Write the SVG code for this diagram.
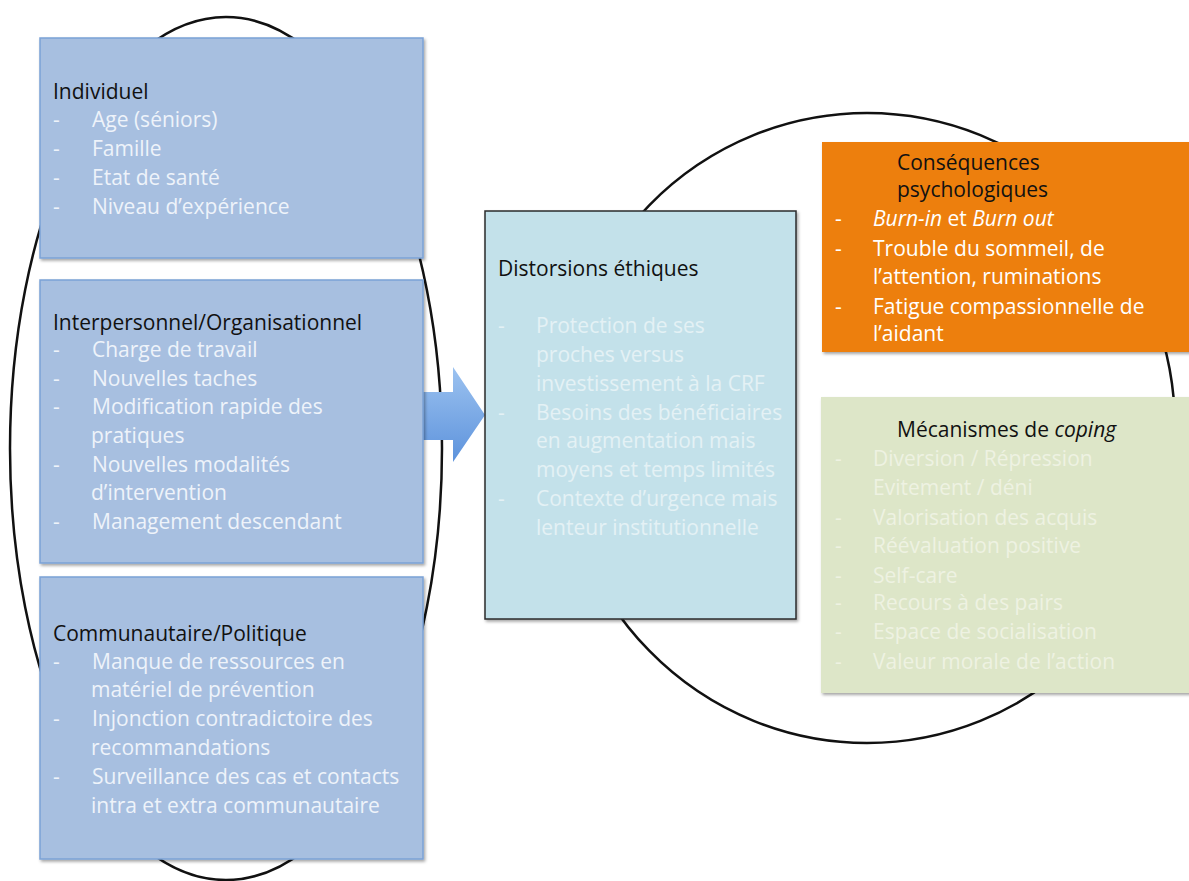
<svg xmlns="http://www.w3.org/2000/svg" width="1189" height="881" viewBox="0 0 1189 881">
<defs>
  <filter id="sh" x="-5%" y="-5%" width="110%" height="110%">
    <feDropShadow dx="1.5" dy="2" stdDeviation="1.5" flood-color="#000" flood-opacity="0.35"/>
  </filter>
  <linearGradient id="ag" x1="0" y1="0" x2="0" y2="1">
    <stop offset="0" stop-color="#9cc2f0"/>
    <stop offset="1" stop-color="#5d93dc"/>
  </linearGradient>
  <style>
    text{font-family:"Open Sans",Lato,"Liberation Sans",sans-serif;font-size:21px}
    .t{fill:#111}
    .w{fill:#eef3fa}
    .f{fill:#e4f1f5}
    .g{fill:#eef2e2}
    .o{fill:#ffffff}
    .lb{fill:#a7bfe0;stroke:#7ba2d6;stroke-width:1.5}
    .ell{fill:none;stroke:#111;stroke-width:2.5}
  </style>
</defs>
<rect width="1189" height="881" fill="#fff"/>
<g id="ellipses">
  <ellipse class="ell" cx="226" cy="448.5" rx="216" ry="431.5"/>
  <ellipse class="ell" cx="867" cy="428" rx="308" ry="315"/>
</g>
<g id="connectors">
  <path d="M423,392 H453 V367 L485,415 L453,462 V440 H423 Z" fill="url(#ag)"/>
</g>
<g id="individuel">
  <rect class="lb" x="40" y="38" width="383" height="220" filter="url(#sh)"/>
  <text class="t" x="53" y="99">Individuel</text>
  <g class="w">
    <text x="53" y="127">-</text><text x="92" y="127">Age (séniors)</text>
    <text x="53" y="156">-</text><text x="92" y="156">Famille</text>
    <text x="53" y="185">-</text><text x="92" y="185">Etat de santé</text>
    <text x="53" y="214">-</text><text x="92" y="214">Niveau d’expérience</text>
  </g>
</g>
<g id="interpersonnel">
  <rect class="lb" x="40" y="280" width="383" height="283" filter="url(#sh)"/>
  <text class="t" x="53" y="330">Interpersonnel/Organisationnel</text>
  <g class="w">
    <text x="53" y="357">-</text><text x="92" y="357">Charge de travail</text>
    <text x="53" y="386">-</text><text x="92" y="386">Nouvelles taches</text>
    <text x="53" y="414">-</text><text x="92" y="414">Modification rapide des</text>
    <text x="91" y="443">pratiques</text>
    <text x="53" y="472">-</text><text x="92" y="472">Nouvelles modalités</text>
    <text x="91" y="500">d’intervention</text>
    <text x="53" y="529">-</text><text x="92" y="529">Management descendant</text>
  </g>
</g>
<g id="communautaire">
  <rect class="lb" x="40" y="577" width="383" height="282" filter="url(#sh)"/>
  <text class="t" x="53" y="641">Communautaire/Politique</text>
  <g class="w">
    <text x="53" y="669">-</text><text x="92" y="669">Manque de ressources en</text>
    <text x="91" y="697">matériel de prévention</text>
    <text x="53" y="726">-</text><text x="92" y="726">Injonction contradictoire des</text>
    <text x="91" y="755">recommandations</text>
    <text x="53" y="784">-</text><text x="92" y="784">Surveillance des cas et contacts</text>
    <text x="91" y="813">intra et extra communautaire</text>
  </g>
</g>
<g id="distorsions">
  <rect x="485" y="211" width="311" height="408" fill="#c3e1ea" stroke="#2b2b2b" stroke-width="1.5" filter="url(#sh)"/>
  <text class="t" x="498" y="276">Distorsions éthiques</text>
  <g class="f">
    <text x="498" y="333">-</text><text x="536" y="333">Protection de ses</text>
    <text x="536" y="362">proches versus</text>
    <text x="536" y="391">investissement à la CRF</text>
    <text x="498" y="420">-</text><text x="536" y="420">Besoins des bénéficiaires</text>
    <text x="536" y="448">en augmentation mais</text>
    <text x="536" y="477">moyens et temps limités</text>
    <text x="498" y="506">-</text><text x="536" y="506">Contexte d’urgence mais</text>
    <text x="536" y="535">lenteur institutionnelle</text>
  </g>
</g>
<g id="consequences">
  <rect x="822" y="142" width="370" height="210" fill="#ed7f0e" filter="url(#sh)"/>
  <text class="t" x="897" y="170">Conséquences</text>
  <text class="t" x="897" y="197">psychologiques</text>
  <g class="o">
    <text x="835" y="226">-</text><text x="873" y="226"><tspan font-style="italic">Burn-in</tspan> et <tspan font-style="italic">Burn out</tspan></text>
    <text x="835" y="256">-</text><text x="873" y="256">Trouble du sommeil, de</text>
    <text x="873" y="284">l’attention, ruminations</text>
    <text x="835" y="314">-</text><text x="873" y="314">Fatigue compassionnelle de</text>
    <text x="873" y="341">l’aidant</text>
  </g>
</g>
<g id="coping">
  <rect x="821" y="397" width="371" height="296" fill="#dde6c8" filter="url(#sh)"/>
  <text class="t" x="897" y="437">Mécanismes de <tspan font-style="italic">coping</tspan></text>
  <g class="g">
    <text x="835" y="466">-</text><text x="873" y="466">Diversion / Répression</text>
    <text x="873" y="495">Evitement / déni</text>
    <text x="835" y="525">-</text><text x="873" y="525">Valorisation des acquis</text>
    <text x="835" y="553">-</text><text x="873" y="553">Réévaluation positive</text>
    <text x="835" y="583">-</text><text x="873" y="583">Self-care</text>
    <text x="835" y="610">-</text><text x="873" y="610">Recours à des pairs</text>
    <text x="835" y="639">-</text><text x="873" y="639">Espace de socialisation</text>
    <text x="835" y="669">-</text><text x="873" y="669">Valeur morale de l’action</text>
  </g>
</g>
</svg>
